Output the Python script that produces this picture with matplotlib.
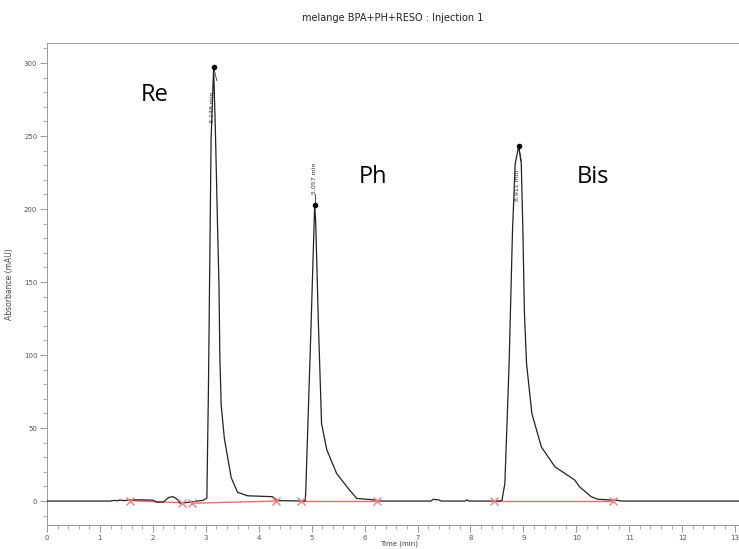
import numpy as np
import matplotlib.pyplot as plt
from matplotlib.ticker import MultipleLocator

# --- Data
time = [0.0, 1.2, 1.27, 1.32, 1.38, 1.45, 1.57, 1.8, 2.0, 2.08, 2.2, 2.3, 2.38, 2.45, 2.52, 2.6, 2.8, 2.95,
        3.02, 3.05, 3.10, 3.148, 3.185, 3.22, 3.25, 3.265, 3.29, 3.35, 3.48, 3.6, 3.79, 4.26, 4.35,
        4.85, 4.877, 4.887, 4.99, 5.057, 5.077, 5.127, 5.187, 5.287, 5.47, 5.69, 5.85, 6.22, 6.28,
        7.25, 7.3, 7.4, 7.45, 7.9, 7.93, 7.97,
        8.55, 8.595, 8.65, 8.73, 8.795, 8.845, 8.911, 8.96, 8.99, 9.02, 9.06, 9.16, 9.34, 9.595, 9.97,
        10.06, 10.28, 10.41, 10.78, 10.85, 13.5]
absorb = [0.0, 0.0, 0.5, 0.2, 0.7, 0.3, 0.8, 0.8, 0.6, -0.8, -0.6, 2.5, 3.0, 1.5, -1.5, -1.2, -0.2, 0.5,
          2.0, 77, 248, 297, 248, 191, 146, 100, 66, 43, 16, 6, 3.6, 3.0, 0.3,
          0.0, 0.0, 5, 122, 203, 190, 122, 53, 35, 19, 8.7, 1.8, 0.7, 0.0,
          0.0, 1.2, 0.8, 0.0, 0.0, 0.8, 0.0,
          0.0, 0.5, 12, 94, 186, 231, 243, 231, 186, 128, 94, 60, 37, 23.5, 14.4,
          9.8, 3.0, 1.2, 0.5, 0.0, 0.0]

peak_times = [3.148, 5.057, 8.911]
peak_heights = [297, 203, 243]
peak_labels = ['3.148 min', '5.057 min', '8.911 min']

# integration baselines (start/end of each segment)
bl_t0 = [1.57, 2.73, 4.79, 8.45]
bl_t1 = [2.55, 4.33, 6.24, 10.7]
bl_v0 = [0.3, -1.5, 0.0, 0.0]
bl_v1 = [-1.2, 0.0, 0.0, 0.0]

compounds = ['Re', 'Ph', 'Bis']
comp_t = [2.04, 6.16, 10.32]
comp_v = [278, 222, 222]

# --- Plot
fig = plt.figure(figsize=(7.39, 5.49), dpi=100)
ax = fig.add_axes([47/739, 24/549, 704/739, 482/549])

ax.plot(time, absorb, color='#222222', lw=0.9, zorder=3)
for t0, t1, v0, v1 in zip(bl_t0, bl_t1, bl_v0, bl_v1):
    ax.plot([t0, t1], [v0, v1], color='#f05050', lw=1.0, alpha=0.85, zorder=2)
    ax.plot([t0, t1], [v0, v1], ls='none', marker='x', ms=6, mew=1.0, color='#f08080', zorder=4)

ax.plot(peak_times, peak_heights, 'o', color='black', ms=3, zorder=5)

# retention time labels
kw = dict(rotation=90, fontsize=4.5, color='#333333', ha='center', zorder=6)
ax.plot([peak_times[0], peak_times[0]+0.06], [peak_heights[0], peak_heights[0]-9], color='#333333', lw=0.6)
ax.text(peak_times[0]-0.03, 270, peak_labels[0], va='center', **kw)
ax.plot([peak_times[1], peak_times[1]], [peak_heights[1], peak_heights[1]+7], color='#333333', lw=0.6)
ax.text(peak_times[1], 210, peak_labels[1], va='bottom', **kw)
ax.plot([peak_times[2], peak_times[2]+0.05], [peak_heights[2], peak_heights[2]-10], color='#333333', lw=0.6)
ax.text(peak_times[2]-0.02, 216, peak_labels[2], va='center', **kw)

for name, t, v in zip(compounds, comp_t, comp_v):
    ax.text(t, v, name, fontsize=17, family='Open Sans', ha='center', va='center', color='black')

ax.set_xlim(0, 13.3)
ax.set_ylim(-16.4, 313.7)
ax.xaxis.set_major_locator(MultipleLocator(1))
ax.xaxis.set_minor_locator(MultipleLocator(0.2))
ax.yaxis.set_major_locator(MultipleLocator(50))
ax.yaxis.set_minor_locator(MultipleLocator(10))
ax.tick_params(which='major', length=5, width=0.6, color='#888888', labelsize=5, labelcolor='#555555', pad=2)
ax.tick_params(which='minor', length=3, width=0.5, color='#888888')
for s in ax.spines.values():
    s.set_color('#999999')
    s.set_linewidth(0.7)
ax.set_xlabel('Time (min)', fontsize=5, color='#444444', labelpad=0)
ax.set_ylabel('Absorbance (mAU)', fontsize=5.5, color='#444444', labelpad=7)

fig.text(393/739, 1-18/549, 'melange BPA+PH+RESO : Injection 1', fontsize=7, ha='center', va='center', color='#222222')

fig.savefig('out.png', dpi=100)
